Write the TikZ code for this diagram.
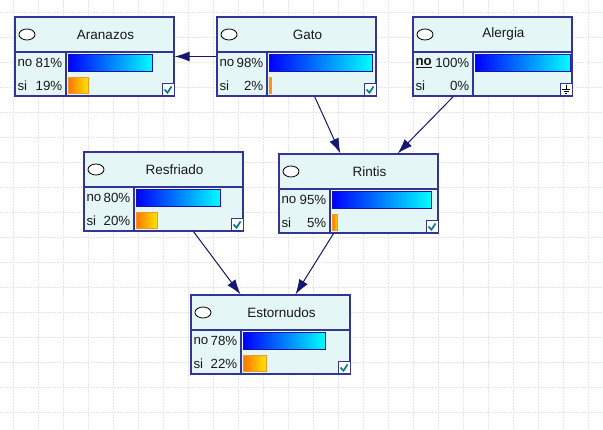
\documentclass[tikz,border=0pt]{standalone}
\usepackage{fontspec}
\setmainfont{Liberation Sans}
\usetikzlibrary{arrows.meta,shapes.geometric}
\definecolor{boxfill}{RGB}{228,246,246}
\definecolor{boxline}{RGB}{52,52,148}
\definecolor{arrowc}{RGB}{22,22,115}
\definecolor{gridc}{RGB}{230,230,230}
\definecolor{checkc}{RGB}{0,128,128}
\definecolor{barblue}{RGB}{0,0,255}
\definecolor{barcyan}{RGB}{0,255,255}
\definecolor{barblueline}{RGB}{20,20,170}
\definecolor{barorange}{RGB}{255,120,0}
\definecolor{baryellow}{RGB}{255,230,0}
\definecolor{barorangeline}{RGB}{245,150,40}
\definecolor{txt}{RGB}{25,25,25}
\tikzset{
  netbox/.style={rectangle, draw=boxline, fill=boxfill, line width=1.2pt,
    minimum width=159pt, minimum height=79pt, inner sep=0pt},
  divline/.style={draw=boxline, line width=1.2pt},
  ovalmark/.style={ellipse, draw=black, fill=white, line width=0.8pt,
    minimum width=16pt, minimum height=11pt, inner sep=0pt},
  titletext/.style={inner sep=0pt, text=txt, font=\fontsize{13.5pt}{15pt}\selectfont},
  statetext/.style={inner sep=0pt, text=txt, font=\fontsize{13.3pt}{15pt}\selectfont},
  bluebar/.style={left color=barblue, right color=barcyan, draw=barblueline, line width=0.8pt},
  orangebar/.style={left color=barorange, right color=baryellow, draw=barorangeline, line width=0.8pt},
  gridline/.style={draw=gridc, line width=0.8pt, dash pattern=on 2pt off 1pt},
  conn/.style={draw=arrowc, line width=1pt, -{Latex[length=15pt,width=10pt]}},
  iconbox/.style={draw=boxline, fill=white, line width=1pt},
}
\newcommand\iconcheck[2]{%
  \draw[iconbox] ({#1-12},{#2-12}) rectangle ({#1},{#2});
  \draw[checkc, line width=1.7pt] ({#1-9.5},{#2-6.5}) -- ({#1-6.5},{#2-3.3}) -- ({#1-2.5},{#2-9.5});
}
\newcommand\iconground[2]{%
  \draw[iconbox] ({#1-12},{#2-12}) rectangle ({#1},{#2});
  \draw[black, line width=0.7pt] ({#1-6},{#2-10.5}) -- ({#1-6},{#2-6.5});
  \draw[black, line width=0.7pt] ({#1-10},{#2-6.5}) -- ({#1-2},{#2-6.5});
  \draw[black, line width=0.7pt] ({#1-8.5},{#2-4.5}) -- ({#1-3.5},{#2-4.5});
  \draw[black, line width=0.7pt] ({#1-7},{#2-2.5}) -- ({#1-5},{#2-2.5});
}
% #1 name, #2 left, #3 top, #4 title, #5 state column width,
% #6 label of first state, #7 first percentage, #8 second percentage, #9 icon
\newcommand\bnet[9]{%
  \node[netbox] (#1) at ({#2+79.5},{#3+39.5}) {};
  \draw[divline] ({#2},{#3+35}) -- ({#2+159},{#3+35});
  \draw[divline] ({#2+#5},{#3+35}) -- ({#2+#5},{#3+79});
  \node[ovalmark] (#1-oval) at ({#2+12},{#3+17.5}) {};
  \node[titletext] (#1-title) at ({#2+90.5},{#3+17.5}) {#4};
  \node[statetext, anchor=west] (#1-nol) at ({#2+2.3},{#3+46}) {#6};
  \node[statetext, anchor=west] (#1-sil) at ({#2+2.3},{#3+69}) {si};
  \node[statetext, anchor=east] (#1-nop) at ({#2+#5-3.5},{#3+46}) {#7\%};
  \node[statetext, anchor=east] (#1-sip) at ({#2+#5-3.5},{#3+69}) {#8\%};
  \pgfmathsetmacro\barstart{#2+#5+2.5}
  \pgfmathsetmacro\nobarend{#2+#5+2.5+(155-#5)*#7/100}
  \pgfmathsetmacro\sibarend{#2+#5+2.5+(155-#5)*#8/100}
  \ifdim #7pt>0pt
    \shadedraw[bluebar] (\barstart,{#3+37.5}) rectangle (\nobarend,{#3+54});
  \fi
  \ifdim #8pt>0pt
    \shadedraw[orangebar] (\barstart,{#3+60.5}) rectangle (\sibarend,{#3+76});
  \fi
  \csname icon#9\endcsname{#2+159}{#3+79}
}
\begin{document}
\begin{tikzpicture}[x=1pt,y=-1pt]
  \useasboundingbox (0,0) rectangle (603,430);
  \fill[white] (0,0) rectangle (603,430);
  \foreach \gx in {13,38,...,600} \draw[gridline] (\gx,0) -- (\gx,430);
  \foreach \gy in {12,37,...,428} \draw[gridline] (0,\gy) -- (603,\gy);

  \bnet{aranazos}{15}{17}{Aranazos}{51}{no}{81}{19}{check}
  \bnet{gato}{217}{17}{Gato}{50}{no}{98}{2}{check}
  \bnet{alergia}{413}{17}{Alergia}{60}{\underline{\textbf{no}}}{100}{0}{ground}
  \bnet{resfriado}{84}{152}{Resfriado}{50}{no}{80}{20}{check}
  \bnet{rintis}{279}{154}{Rintis}{51}{no}{95}{5}{check}
  \bnet{estornudos}{191}{295}{Estornudos}{50}{no}{78}{22}{check}

  \draw[conn] (gato) -- (aranazos);
  \draw[conn] (gato) -- (rintis);
  \draw[conn] (alergia) -- (rintis);
  \draw[conn] (resfriado) -- (estornudos);
  \draw[conn] (rintis) -- (estornudos);
\end{tikzpicture}
\end{document}
